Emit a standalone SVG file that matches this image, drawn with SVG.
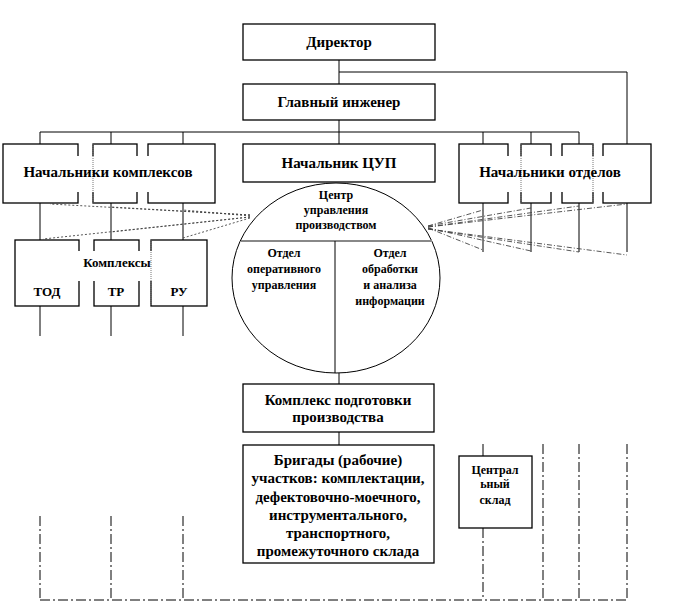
<svg xmlns="http://www.w3.org/2000/svg" width="699" height="612" viewBox="0 0 699 612">
<style>
.box{fill:#fff;stroke:#000;stroke-width:1.3}
.ln{fill:none;stroke:#000;stroke-width:1}
.dd{fill:none;stroke:#000;stroke-width:1;stroke-dasharray:10 3 2 3}
.fanl{fill:none;stroke:#444;stroke-width:0.9;stroke-dasharray:2 2}
.fanr{fill:none;stroke:#444;stroke-width:0.9;stroke-dasharray:5 2 1 2}
.dot{fill:none;stroke:#777;stroke-width:1;stroke-dasharray:1 1}
.cover{fill:#fff;stroke:none}
text{font-family:'Liberation Serif','DejaVu Serif','Times New Roman',serif;font-weight:bold;fill:#000;text-anchor:middle}
.t15{font-size:15px}
.t13{font-size:13px}
.t12{font-size:12px}
</style>
<rect width="699" height="612" fill="#fff"/>
<g id="connectors">
<path class="ln" d="M339 60V84M339 72H627V144M339 120V144M40 132H579M40 132V144M111 132V144M183 132V144M483 132V144M531 132V144M579 132V144"/>
<path class="ln" d="M40 203V240M111 203V240M183 203V240M40 306V336M111 306V336M183 306V336"/>
<path class="ln" d="M483 203V252M531 203V252M579 203V252M627 203V252"/>
<path class="ln" d="M339 373V384M339 432V445M483 444V456"/>
<path class="dd" d="M40 516V600M111 516V600M183 516V600M483 528V600M543 444V600M579 444V600M627 444V600M40 600H627"/>
<path class="fanl" d="M250 215L50 204M250 215L111 207M250 216L183 210M250 217L43 239M250 217L111 232M250 218L183 238"/>
<path class="fanr" d="M428 226L483 210M428 226L531 208M428 227L579 206M428 227L627 204M428 228L483 250M428 228L531 251M428 229L579 252M428 229L627 255"/>
</g>
<g id="director">
<rect class="box" x="243" y="24" width="192" height="36"/>
<text class="t15" x="339" y="47" font-family="Liberation Serif, serif">Директор</text>
</g>
<g id="chief-engineer">
<rect class="box" x="243" y="84" width="192" height="36"/>
<text class="t15" x="339" y="107">Главный инженер</text>
</g>
<g id="heads-complexes">
<rect class="box" x="3" y="144" width="75" height="59"/>
<rect class="box" x="93" y="144" width="44" height="59"/>
<rect class="box" x="148" y="144" width="67" height="59"/>
<rect class="cover" x="72" y="156" width="82" height="36"/>
<line class="dot" x1="93" y1="144" x2="93" y2="203"/>
<text class="t15" x="108" y="177">Начальники комплексов</text>
</g>
<g id="head-cup">
<rect class="box" x="243" y="144" width="192" height="38"/>
<text class="t15" x="339" y="168">Начальник ЦУП</text>
</g>
<g id="heads-departments">
<rect class="box" x="459" y="144" width="49" height="59"/>
<rect class="box" x="521" y="144" width="30" height="59"/>
<rect class="box" x="562" y="144" width="31" height="59"/>
<rect class="box" x="603" y="144" width="48" height="59"/>
<rect class="cover" x="503" y="156" width="106" height="36"/>
<line class="dot" x1="521" y1="144" x2="521" y2="203"/>
<line class="dot" x1="593" y1="144" x2="593" y2="203"/>
<text class="t15" x="550" y="177">Начальники отделов</text>
</g>
<g id="complexes">
<rect class="box" x="15" y="240" width="64" height="66"/>
<rect class="box" x="94" y="240" width="45" height="66"/>
<rect class="box" x="151" y="240" width="56" height="66"/>
<rect class="cover" x="74" y="251" width="82" height="30"/>
<line class="dot" x1="151" y1="240" x2="151" y2="306"/>
<text class="t13" x="117" y="267">Комплексы</text>
<text class="t13" x="47" y="296">ТОД</text>
<text class="t13" x="116" y="296">ТР</text>
<text class="t13" x="179" y="296">РУ</text>
</g>
<g id="cup-center">
<ellipse cx="336" cy="278" rx="104" ry="95" fill="#fff" stroke="#000" stroke-width="1"/>
<line x1="241" y1="241" x2="432" y2="241" stroke="#888" stroke-width="2"/>
<line class="ln" x1="335" y1="241" x2="335" y2="373"/>
<text class="t12" x="336" y="199">Центр</text>
<text class="t12" x="336" y="214">управления</text>
<text class="t12" x="336" y="229">производством</text>
<text class="t12" x="284" y="257">Отдел</text>
<text class="t12" x="284" y="273">оперативного</text>
<text class="t12" x="284" y="289">управления</text>
<text class="t12" x="390" y="257">Отдел</text>
<text class="t12" x="390" y="273">обработки</text>
<text class="t12" x="390" y="289">и анализа</text>
<text class="t12" x="390" y="305">информации</text>
</g>
<g id="prep-complex">
<rect class="box" x="243" y="384" width="191" height="48"/>
<text class="t15" x="338" y="405">Комплекс подготовки</text>
<text class="t15" x="338" y="422">производства</text>
</g>
<g id="brigades">
<rect class="box" x="243" y="445" width="191" height="118"/>
<text class="t15" x="338" y="465">Бригады (рабочие)</text>
<text class="t15" x="338" y="483">участков: комплектации,</text>
<text class="t15" x="338" y="502">дефектовочно-моечного,</text>
<text class="t15" x="338" y="520">инструментального,</text>
<text class="t15" x="338" y="538">транспортного,</text>
<text class="t15" x="338" y="556">промежуточного склада</text>
</g>
<g id="central-warehouse">
<rect class="box" x="459" y="456" width="73" height="72"/>
<text class="t12" x="495" y="474">Централ</text>
<text class="t12" x="495" y="488">ьный</text>
<text class="t12" x="495" y="504">склад</text>
</g>
</svg>
